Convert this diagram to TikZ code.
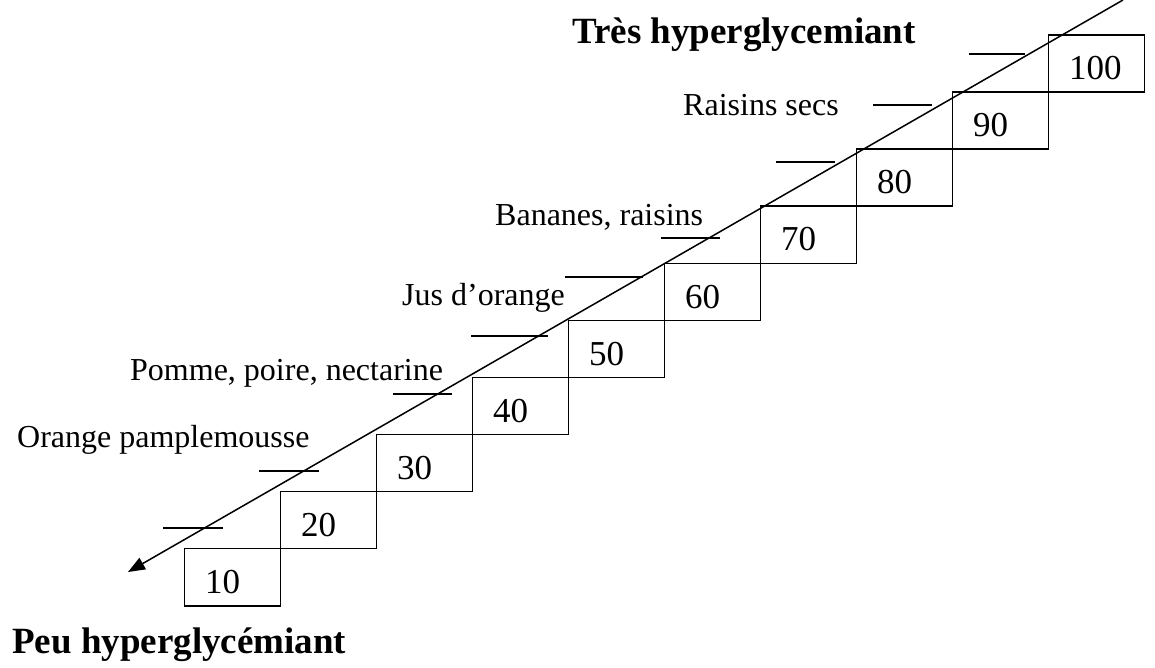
\documentclass[tikz,border=0pt]{standalone}
\usepackage{fontspec}
\setmainfont{Liberation Serif}
\usetikzlibrary{arrows.meta,calc}
\begin{document}
\begin{tikzpicture}[x=1pt,y=-1pt,
  box/.style={draw,line width=1.4pt,minimum width=96pt,minimum height=57.1pt,inner sep=0pt,anchor=north west},
  num/.style={font=\fontsize{35}{38}\selectfont,inner sep=0pt,anchor=base west},
  lab/.style={font=\fontsize{32}{35}\selectfont,inner sep=0pt,anchor=base west},
  ttl/.style={font=\bfseries\fontsize{37}{40}\selectfont,inner sep=0pt,anchor=base west},
  tickline/.style={line width=1.3pt},
  axis/.style={line width=1.5pt,-{Triangle[length=17pt,width=13pt]}}]
\useasboundingbox (0,0) rectangle (1155,667);
\foreach \v [count=\k from 0] in {10,20,...,100} {
  \node[box] (b\v) at ({184+96*\k},{548-57.1*\k}) {};
  \node[num] (n\v) at ($(b\v.south west)+(21,-13)$) {\v};
}
\foreach \a/\b/\y in {163/223/528,259/319/471,393/452/394,471/548/336,565/643/277,661/720/238,776/835/162,873/932/105,969/1025/54} {
  \draw[tickline] (\a,\y) -- (\b,\y);
}
\coordinate (top) at (1123,0);
\coordinate (tip) at (128,572);
\draw[axis] (top) -- (tip);
\node[lab] (raisec) at (683,115) {Raisins secs};
\node[lab] (banan) at (495,225) {Bananes, raisins};
\node[lab] (jus) at (402,305) {Jus d’orange};
\node[lab] (pomme) at (130,380) {Pomme, poire, nectarine};
\node[lab] (orange) at (17,447) {Orange pamplemousse};
\node[ttl] (tres) at (572,43) {Très hyperglycemiant};
\node[ttl] (peu) at (12,653) {Peu hyperglycémiant};
\end{tikzpicture}
\end{document}
